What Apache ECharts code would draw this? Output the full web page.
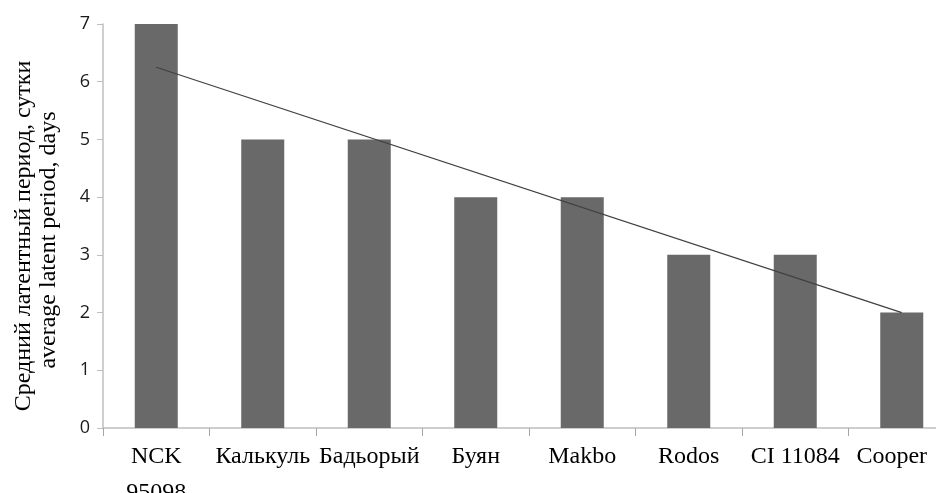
<!DOCTYPE html>
<html><head><meta charset="utf-8">
<script src="https://cdn.jsdelivr.net/npm/echarts@6/dist/echarts.min.js"></script>
<style>html,body{margin:0;padding:0;background:#fff;overflow:hidden;width:936px;height:493px}#c{width:956px;height:530px}</style>
</head><body><div id="c"></div>
<script>
const categories = ['NCK\n95098','Калькуль','Бадьорый','Буян','Makbo','Rodos','CI 11084','Cooper'];
const latentDays = [7,5,5,4,4,3,3,2];
const trendValues = [6.25,null,null,null,null,null,null,2.0];
const yTicks = [0,1,2,3,4,5,6,7];
const yTitle1 = 'Средний латентный период, сутки';
const yTitle2 = 'average latent period, days';

const lastIdx = categories.length - 1;
const categoryItems = categories.map((c, i) => i === lastIdx
  ? {value:c, textStyle:{fontSize:24, lineHeight:36, fontFamily:'Liberation Serif', color:'#000', padding:[0,20,0,0]}}
  : c);

const chart = echarts.init(document.getElementById('c'));
chart.setOption({
  animation:false,
  backgroundColor:'#fff',
  grid:{left:103, top:24, width:852, height:404, containLabel:false, outerBoundsMode:'none'},
  xAxis:{type:'category', data:categoryItems,
    axisLine:{lineStyle:{color:'#bfbfbf', width:1.5}},
    axisTick:{show:true, length:8, lineStyle:{color:'#a6a6a6'}},
    axisLabel:{color:'#000', fontFamily:'Liberation Serif', fontSize:24, margin:11, interval:0, lineHeight:36}
  },
  yAxis:{type:'value', min:yTicks[0], max:yTicks[yTicks.length-1], interval:1,
    splitLine:{show:false},
    axisLine:{show:true, lineStyle:{color:'#bfbfbf', width:1.5}},
    axisTick:{show:true, inside:false, length:6, lineStyle:{color:'#bfbfbf'}},
    axisLabel:{color:'#1a1a1a', fontFamily:'Open Sans', fontSize:18, margin:13}
  },
  graphic:[
    {type:'text', x:24, y:236, rotation:Math.PI/2,
     style:{text:yTitle1, font:'24px "Liberation Serif"', fill:'#000', textAlign:'center', textVerticalAlign:'middle'}},
    {type:'text', x:49, y:240, rotation:Math.PI/2,
     style:{text:yTitle2, font:'24px "Liberation Serif"', fill:'#000', textAlign:'center', textVerticalAlign:'middle'}}
  ],
  series:[
    {type:'bar', data:latentDays, barWidth:43, itemStyle:{color:'#696969'}, z:1},
    {type:'line', data:trendValues, connectNulls:true, symbol:'none',
     lineStyle:{color:'#404040', width:1.2}, z:3}
  ]
});
</script></body></html>
